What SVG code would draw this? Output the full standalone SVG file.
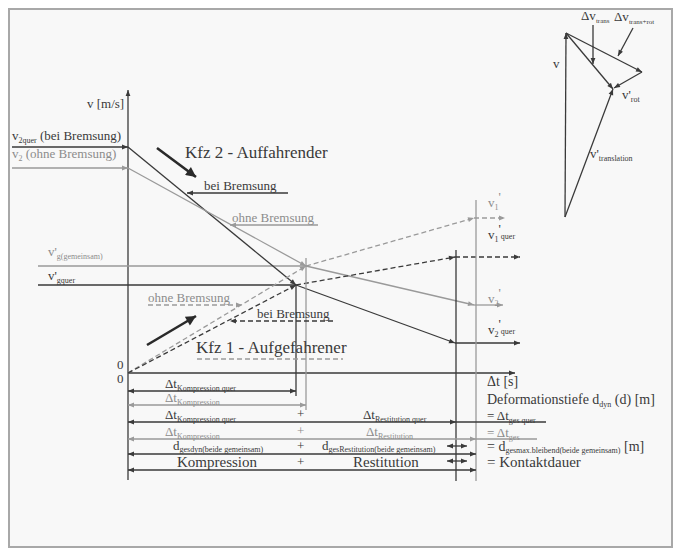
<svg xmlns="http://www.w3.org/2000/svg" width="678" height="554" viewBox="0 0 678 554" font-family="Liberation Serif, Times New Roman, DejaVu Serif, serif">
<defs>
<style>
text{font-family:"Liberation Serif","Times New Roman","DejaVu Serif",serif;fill:#3a3a3a;font-size:13px}
.g{fill:#8c8c8c}
.s{font-size:8px}
.t{font-size:7px}
.big{font-size:17px}
.m{font-size:15px}
.r{font-size:14px}
.ld{stroke:#3a3a3a;stroke-width:1.3;fill:none}
.lg{stroke:#9a9a9a;stroke-width:1.3;fill:none}
.dd{stroke-dasharray:5,3}
.ad{marker-end:url(#ad)}
.ag{marker-end:url(#ag)}
.bd{marker-start:url(#ad);marker-end:url(#ad)}
.bg{marker-start:url(#ag);marker-end:url(#ag)}
</style>
<marker id="ad" viewBox="0 0 10 10" refX="10" refY="5" markerWidth="7" markerHeight="6" markerUnits="userSpaceOnUse" orient="auto-start-reverse"><path d="M0,1 L10,5 L0,9 z" fill="#3a3a3a"/></marker>
<marker id="ag" viewBox="0 0 10 10" refX="10" refY="5" markerWidth="7" markerHeight="6" markerUnits="userSpaceOnUse" orient="auto-start-reverse"><path d="M0,1 L10,5 L0,9 z" fill="#9a9a9a"/></marker>
<marker id="ak" viewBox="0 0 10 10" refX="10" refY="5" markerWidth="12" markerHeight="10" markerUnits="userSpaceOnUse" orient="auto"><path d="M0,0 L10,5 L0,10 z" fill="#2a2a2a"/></marker>
</defs>
<rect x="0" y="0" width="678" height="554" fill="#ffffff"/>
<rect id="frame" x="9" y="9" width="663" height="538" fill="#f8f8f8" stroke="#a8a8a8" stroke-width="2"/>

<g id="connectors">
<line class="ld ad" x1="128" y1="480" x2="128" y2="90"/>
<line class="ld ad" x1="128" y1="373" x2="515" y2="373"/>
<line class="ld ad" x1="12" y1="147" x2="128" y2="147"/>
<line class="lg ag" x1="12" y1="168" x2="128" y2="168"/>
<line class="lg" x1="38" y1="266" x2="306" y2="266"/>
<line class="ld" x1="38" y1="285" x2="296" y2="285"/>
<line class="ld ad" x1="128" y1="147" x2="296" y2="285"/>
<line class="ld ad" x1="296" y1="285" x2="455" y2="343"/>
<line class="ld ad" x1="455" y1="343" x2="520" y2="343"/>
<line class="lg ag" x1="128" y1="168" x2="306" y2="266"/>
<line class="lg ag" x1="306" y1="266" x2="474" y2="305"/>
<line class="lg ag" x1="474" y1="305" x2="503" y2="305"/>
<line class="lg dd ag" x1="128" y1="373" x2="306" y2="266"/>
<line class="lg dd ag" x1="306" y1="266" x2="474" y2="218"/>
<line class="lg dd ag" x1="474" y1="218" x2="505" y2="218"/>
<line class="ld dd ad" x1="128" y1="373" x2="296" y2="285"/>
<line class="ld dd ad" x1="296" y1="285" x2="455" y2="257"/>
<line class="ld dd ad" x1="455" y1="257" x2="520" y2="257"/>
<line class="ld" x1="296" y1="285" x2="296" y2="396"/>
<line class="lg" x1="306" y1="258" x2="306" y2="410"/>
<line class="ld" x1="456" y1="250" x2="456" y2="481"/>
<line class="lg" x1="476" y1="200" x2="476" y2="481"/>
<line stroke="#2a2a2a" stroke-width="2.6" x1="157" y1="148" x2="196" y2="177" marker-end="url(#ak)"/>
<line stroke="#2a2a2a" stroke-width="2.6" x1="147" y1="345" x2="196" y2="316" marker-end="url(#ak)"/>
<line class="ld ad" x1="288" y1="193" x2="187" y2="193"/>
<line class="lg ag" x1="318" y1="225" x2="230" y2="225"/>
<line class="lg dd ag" x1="148" y1="305" x2="242" y2="305"/>
<line class="ld dd ad" x1="333" y1="321" x2="230" y2="321"/>
<line class="lg dd" x1="197" y1="359" x2="343" y2="359"/>
<line class="ld bd" x1="128" y1="391" x2="296" y2="391"/>
<line class="lg bg" x1="128" y1="405" x2="306" y2="405"/>
<line class="ld bd" x1="128" y1="422" x2="456" y2="422"/>
<line class="ld" x1="456" y1="422" x2="546" y2="422"/>
<line class="lg bg" x1="128" y1="439" x2="476" y2="439"/>
<line class="lg" x1="476" y1="439" x2="537" y2="439"/>
<line class="ld bd" x1="128" y1="454" x2="476" y2="454"/>
<line class="ld bd" x1="447" y1="446" x2="467" y2="446"/>
<line class="ld bd" x1="128" y1="470" x2="476" y2="470"/>
<line class="ld bd" x1="447" y1="461" x2="467" y2="461"/>
<line class="ld ad" x1="565" y1="217" x2="566" y2="33"/>
<line class="ld ad" x1="565" y1="217" x2="613" y2="89"/>
<line class="ld ad" x1="566" y1="33" x2="613" y2="89"/>
<line class="ld ad" x1="566" y1="33" x2="642" y2="72"/>
<line class="ld ad" x1="642" y1="72" x2="614" y2="88"/>
<line class="ld ad" x1="593" y1="25" x2="593" y2="64"/>
<line class="ld ad" x1="633" y1="28" x2="618" y2="56"/>
</g>

<g id="axis-labels">
<text x="87" y="108">v [m/s]</text>
<text x="117" y="369">0</text>
<text x="117" y="383">0</text>
<text class="r" x="487" y="386">Δt [s]</text>
<text class="r" x="487" y="404">Deformationstiefe d<tspan class="s" dy="3">dyn</tspan><tspan dy="-3"> (d)  [m]</tspan></text>
</g>

<g id="left-labels">
<text x="12" y="140">v<tspan class="s" dy="3">2quer</tspan><tspan dy="-3"> (bei Bremsung)</tspan></text>
<text class="g" x="12" y="158">v<tspan class="s" dy="3">2</tspan><tspan dy="-3"> (ohne Bremsung)</tspan></text>
<text class="g" x="48" y="256" font-size="11">v'<tspan class="s" dy="3">g(gemeinsam)</tspan></text>
<text x="48" y="280" font-size="11">v'<tspan class="s" dy="3">gquer</tspan></text>
</g>

<g id="kfz2">
<text class="big" x="185" y="158">Kfz 2 - Auffahrender</text>
<text x="204" y="190">bei Bremsung</text>
<text class="g" x="232" y="222">ohne Bremsung</text>
</g>

<g id="kfz1">
<text class="g" x="148" y="302">ohne Bremsung</text>
<text x="257" y="318">bei Bremsung</text>
<text class="big" x="196" y="353">Kfz 1 - Aufgefahrener</text>
</g>

<g id="right-labels">
<text class="g" x="488" y="207" font-size="11">v<tspan class="s" dy="3">1</tspan><tspan dy="-9">'</tspan></text>
<text x="488" y="239" font-size="11">v<tspan class="s" dy="3">1</tspan><tspan dy="-9">'</tspan><tspan class="s" dy="6">quer</tspan></text>
<text class="g" x="488" y="303" font-size="11">v<tspan class="s" dy="3">2</tspan><tspan dy="-9">'</tspan></text>
<text x="488" y="334" font-size="11">v<tspan class="s" dy="3">2</tspan><tspan dy="-9">'</tspan><tspan class="s" dy="6">quer</tspan></text>
</g>

<g id="rows">
<text x="165" y="388">Δt<tspan class="s" dy="3">Kompression quer</tspan></text>
<text class="g" x="165" y="402">Δt<tspan class="s" dy="3">Kompression</tspan></text>
<text x="165" y="419">Δt<tspan class="s" dy="3">Kompression quer</tspan></text>
<text x="297" y="418">+</text>
<text x="363" y="419">Δt<tspan class="s" dy="3">Restitution quer</tspan></text>
<text x="487" y="420">=  Δt<tspan class="s" dy="3">ges quer</tspan></text>
<text class="g" x="165" y="436">Δt<tspan class="s" dy="3">Kompression</tspan></text>
<text class="g" x="297" y="435">+</text>
<text class="g" x="366" y="436">Δt<tspan class="s" dy="3">Restitution</tspan></text>
<text class="g" x="487" y="437">=  Δt<tspan class="s" dy="3">ges</tspan></text>
<text x="173" y="450">d<tspan class="s" dy="2">gesdyn(beide gemeinsam)</tspan></text>
<text x="297" y="450">+</text>
<text x="322" y="450">d<tspan class="s" dy="2">gesRestitution(beide gemeinsam)</tspan></text>
<text class="r" x="487" y="451">= d<tspan class="s" dy="2">gesmax.bleibend(beide gemeinsam)</tspan><tspan dy="-2"> [m]</tspan></text>
<text class="m" x="177" y="467">Kompression</text>
<text x="297" y="466">+</text>
<text class="m" x="353" y="467">Restitution</text>
<text class="m" x="487" y="467">= Kontaktdauer</text>
</g>

<g id="vector-triangle">
<text x="581" y="20" font-size="11">Δv<tspan class="t" dy="3">trans</tspan></text>
<text x="614" y="21" font-size="11">Δv<tspan class="t" dy="3">trans+rot</tspan></text>
<text x="553" y="68" font-size="12">v</text>
<text x="622" y="99" font-size="11">v'<tspan class="s" dy="3">rot</tspan></text>
<text x="590" y="158" font-size="11">v'<tspan class="s" dy="3">translation</tspan></text>
</g>
</svg>
